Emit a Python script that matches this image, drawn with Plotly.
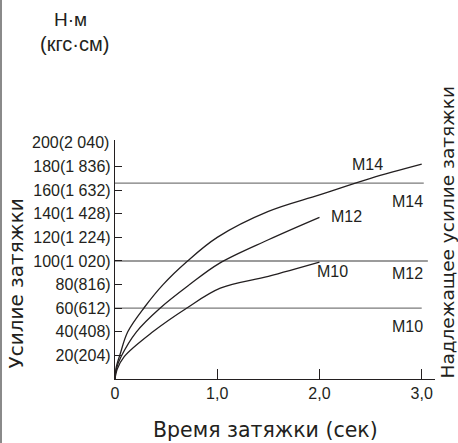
import plotly.graph_objects as go

# время затяжки (сек) и усилие затяжки (Н·м) для болтов M14 / M12 / M10
t_m14 = [0, 0.012, 0.05, 0.125, 0.29, 0.47, 0.71, 1.0, 1.5, 2.0, 2.5, 3.0]
f_m14 = [0, 10, 21, 40, 61, 80, 100, 120, 142, 156, 170, 182]

t_m12 = [0, 0.015, 0.06, 0.21, 0.44, 0.73, 1.02, 1.5, 2.0]
f_m12 = [0, 9, 19, 40, 60, 80, 98, 118, 137]

t_m10 = [0, 0.02, 0.09, 0.37, 0.7, 1.03, 1.5, 2.0]
f_m10 = [0, 8, 19, 40, 60, 77, 87, 99]

# надлежащее усилие затяжки (горизонтальные линии)
ref_names = ["M14", "M12", "M10"]
ref_levels = [166, 100, 60]
ref_ends = [3.02, 3.06, 3.0]

y_ticks = [20, 40, 60, 80, 100, 120, 140, 160, 180]
y_ticktext = ["20(204)", "40(408)", "60(612)", "80(816)", "100(1 020)",
              "120(1 224)", "140(1 428)", "160(1 632)", "180(1 836)"]
x_ticks = [0, 1, 2, 3]
x_ticktext = ["0", "1,0", "2,0", "3,0"]

W, H = 458, 443
L, R, T, B = 115, 23, 140, 64
FONT = "Liberation Sans, Arial, sans-serif"
TFONT = "DejaVu Sans, sans-serif"
INK = "#231f20"


def px(x):
    return (x - L) / (W - L - R)


def py(y):
    return (H - B - y) / (H - T - B)


fig = go.Figure()

for name, lvl, end in zip(ref_names, ref_levels, ref_ends):
    fig.add_trace(go.Scatter(x=[0, end], y=[lvl, lvl], mode="lines",
                             line=dict(color="#7a7a7a", width=1.3),
                             hoverinfo="skip", name="ref " + name))

for name, t, f in [("M14", t_m14, f_m14), ("M12", t_m12, f_m12), ("M10", t_m10, f_m10)]:
    fig.add_trace(go.Scatter(x=t, y=f, mode="lines", name=name,
                             line=dict(color=INK, width=1.3, shape="spline", smoothing=1.0)))

fig.update_xaxes(range=[0, 3.13], tickvals=x_ticks, ticktext=x_ticktext,
                 ticks="inside", ticklen=10, tickcolor=INK, showgrid=False, zeroline=False,
                 showline=True, linecolor=INK, linewidth=1.3,
                 tickfont=dict(size=16, color=INK, family=FONT))
fig.update_yaxes(range=[0, 202.5], tickvals=y_ticks, ticktext=y_ticktext,
                 ticks="inside", ticklen=7, tickcolor=INK, showgrid=False, zeroline=False,
                 showline=True, linecolor=INK, linewidth=1.3,
                 tickfont=dict(size=16, color=INK, family=FONT))

ann = [
    dict(text="200(2 040)", x=0, y=200, xref="paper", yref="y", xanchor="right",
         xshift=-4),
    dict(text="M14", x=2.47, y=181.4),
    dict(text="M14", x=2.86, y=150.8),
    dict(text="M12", x=2.26, y=137.7),
    dict(text="M12", x=2.86, y=89),
    dict(text="M10", x=2.13, y=91.1),
    dict(text="M10", x=2.86, y=44.5),
    dict(text="Н·м", x=px(70), y=py(19), xref="paper", yref="paper",
         font=dict(size=19)),
    dict(text="(кгс·см)", x=px(74), y=py(43.5), xref="paper", yref="paper",
         font=dict(size=20)),
    dict(text="Время затяжки (сек)", x=px(265.5), y=py(430), xref="paper", yref="paper",
         font=dict(size=20.5, family=TFONT)),
    dict(text="Усилие затяжки", x=px(15), y=py(283.5), xref="paper", yref="paper",
         textangle=-90, font=dict(size=20, family=TFONT)),
    dict(text="Надлежащее усилие затяжки", x=px(446.5), y=py(232), xref="paper", yref="paper",
         textangle=-90, font=dict(size=18.5, family=TFONT)),
]
for a in ann:
    a.setdefault("xanchor", "center")
    a.setdefault("yanchor", "middle")
    a["showarrow"] = False
    f = a.setdefault("font", {})
    f.setdefault("size", 16)
    f.setdefault("family", FONT)
    f["color"] = INK
    fig.add_annotation(**a)

# серая рамка страницы слева
fig.add_shape(type="line", xref="paper", yref="paper", x0=px(1), x1=px(1),
              y0=py(0), y1=py(H), line=dict(color="#8a8a8a", width=2))

fig.update_layout(width=W, height=H, margin=dict(l=L, r=R, t=T, b=B),
                  plot_bgcolor="white", paper_bgcolor="white", showlegend=False,
                  font=dict(family=FONT, color=INK))

fig.write_html("out.html", config={"displayModeBar": False},
               post_script="document.body.style.margin='0';")
